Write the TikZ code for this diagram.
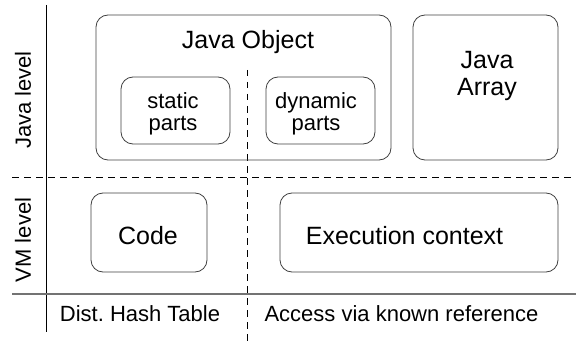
\documentclass[tikz,border=0pt]{standalone}
\usepackage{fontspec}
\setmainfont{Liberation Sans}
\frenchspacing
\begin{document}
\begin{tikzpicture}[x=1pt,y=-1pt,
  box/.style={draw=black!75,line width=0.8pt,rounded corners=12pt,inner sep=0pt},
  bigtext/.style={font=\fontsize{25}{27}\selectfont,inner sep=0pt,align=center},
  smalltext/.style={font=\fontsize{22}{21.5}\selectfont,inner sep=0pt,align=center},
  divider/.style={line width=0.9pt,dash pattern=on 6.5pt off 5.5pt}]
\useasboundingbox (0,0) rectangle (576,345);

% level axes
\coordinate (vtop) at (46,5);
\coordinate (vbot) at (46,332);
\coordinate (hl) at (12,294);
\coordinate (hr) at (576,294);
\coordinate (dl) at (12,177);
\coordinate (dr) at (572,177);
\coordinate (dt) at (247,70);
\coordinate (db) at (247,343);
\draw[line width=0.9pt] (vtop) -- (vbot);
\draw[black!55,line width=1.3pt] (hl) -- (hr);
\draw[divider] (dl) -- (dr);
\draw[divider] (dt) -- (db);

% Java level
\node[box,minimum width=295pt,minimum height=145pt] (jobj) at (243.5,87.5) {};
\node[bigtext] (jobjtitle) at (248,42) {Java Object};
\node[box,fill=white,minimum width=109pt,minimum height=67pt] (static) at (175.5,110.5) {};
\node[smalltext] (statictext) at (173,114) {static\\parts};
\node[box,fill=white,minimum width=109pt,minimum height=67pt] (dynamic) at (320.5,110.5) {};
\node[smalltext] (dynamictext) at (316,114) {dynamic\\parts};
\node[box,minimum width=145pt,minimum height=145pt] (jarr) at (485.5,87.5) {};
\node[bigtext] (jarrtext) at (487,76) {Java\\Array};

% VM level
\node[box,fill=white,minimum width=116pt,minimum height=79pt] (code) at (149,232.5) {};
\node[bigtext] (codetext) at (148,236) {Code};
\node[box,fill=white,minimum width=278pt,minimum height=79pt] (exec) at (419,232.5) {};
\node[bigtext] (exectext) at (404.5,236) {Execution context};

% axis labels
\node[smalltext,rotate=90] (javalevel) at (23,100) {Java level};
\node[smalltext,rotate=90] (vmlevel) at (23,240) {VM level};
\node[smalltext] (dht) at (140,314) {Dist. Hash Table};
\node[smalltext] (access) at (401.5,314) {Access via known reference};
\end{tikzpicture}
\end{document}
